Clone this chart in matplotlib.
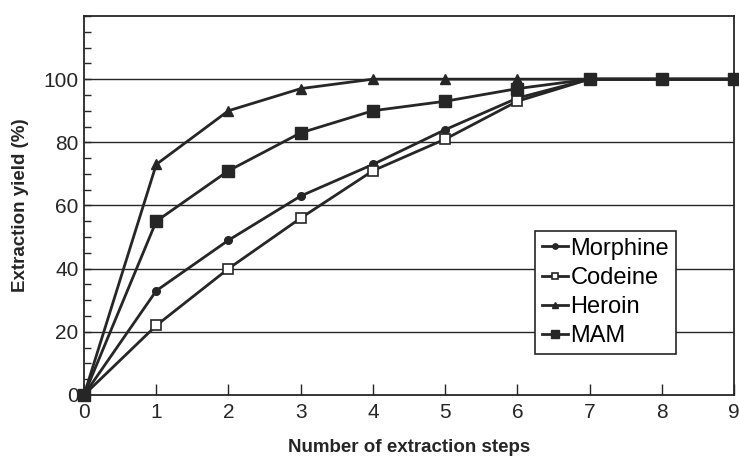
import matplotlib
matplotlib.use("Agg")
import matplotlib.pyplot as plt
from matplotlib.ticker import MultipleLocator

plt.rcParams['font.family'] = ['Liberation Sans', 'DejaVu Sans']

# extraction data
steps = [0, 1, 2, 3, 4, 5, 6, 7, 8, 9]
morphine = [0, 33, 49, 63, 73, 84, 94, 100, 100, 100]
codeine = [0, 22, 40, 56, 71, 81, 93, 100, 100, 100]
heroin = [0, 73, 90, 97, 100, 100, 100, 100, 100, 100]
mam = [0, 55, 71, 83, 90, 93, 97, 100, 100, 100]

col = '#262626'

fig = plt.figure(figsize=(7.39, 4.58), dpi=100)
ax = fig.add_axes([0.1137, 0.1376, 0.8796, 0.8275])

for y in [20, 40, 60, 80, 100]:
    ax.axhline(y, color=col, lw=1.0, zorder=1)

ax.plot(steps, morphine, '-o', color=col, lw=2, ms=5.5, label='Morphine', clip_on=False, zorder=3)
ax.plot(steps, codeine, '-s', color=col, lw=2, ms=7, mfc='white', mew=1.2, label='Codeine', clip_on=False, zorder=3)
ax.plot(steps, heroin, '-^', color=col, lw=2, ms=7, label='Heroin', clip_on=False, zorder=3)
ax.plot(steps, mam, '-s', color=col, lw=2, ms=8, label='MAM', clip_on=False, zorder=4)

ax.set_xlim(0, 9)
ax.set_ylim(0, 120)
ax.set_xticks(range(0, 10))
ax.set_yticks([0, 20, 40, 60, 80, 100])
ax.yaxis.set_minor_locator(MultipleLocator(5))
ax.tick_params(axis='x', direction='in', length=8, width=1, labelsize=15, pad=6, colors=col)
ax.tick_params(axis='y', which='major', direction='in', length=5, width=1, labelsize=15, pad=4, colors=col)
ax.tick_params(axis='y', which='minor', direction='in', length=5, width=1, colors=col)
for s in ax.spines.values():
    s.set_color(col)
    s.set_linewidth(1.3)

ax.set_xlabel('Number of extraction steps', fontsize=13.5, fontweight='bold', labelpad=12, color=col)
ax.set_ylabel('Extraction yield (%)', fontsize=13.5, fontweight='bold', labelpad=10, color=col)

leg = ax.legend(loc='lower right', bbox_to_anchor=(0.911, 0.108), fontsize=17, frameon=True,
                fancybox=False, edgecolor=col, handlelength=1.1, handletextpad=0.1,
                borderpad=0.3, labelspacing=0.3, framealpha=1, markerscale=0.7,
                borderaxespad=0)
leg.get_frame().set_linewidth(1.2)

fig.savefig('out.png', dpi=100)
